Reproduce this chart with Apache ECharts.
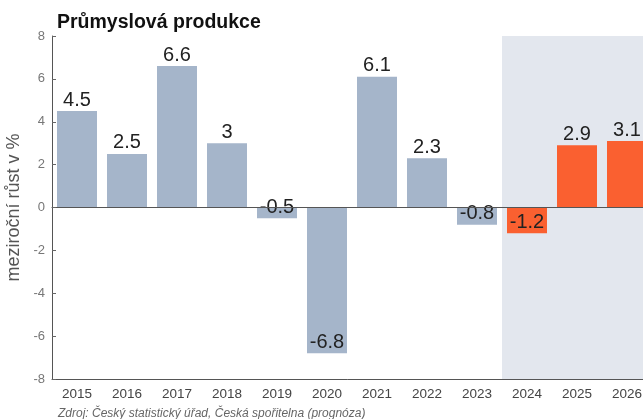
<!DOCTYPE html>
<html><head><meta charset="utf-8">
<script src="https://cdn.jsdelivr.net/npm/echarts@6/dist/echarts.min.js"></script>
<style>html,body{margin:0;padding:0;background:#fff}#c{width:643px;height:419px}</style>
</head><body><div id="c"></div>
<script>
var years = ['2015','2016','2017','2018','2019','2020','2021','2022','2023','2024','2025','2026'];
var growth = [4.5, 2.5, 6.6, 3, -0.5, -6.8, 6.1, 2.3, -0.8, -1.2, 2.9, 3.1];
var forecastYears = ['2024','2025','2026'];
var yTicks = {min: -8, max: 8, interval: 2};
var titleText = 'Průmyslová produkce';
var sourceText = 'Zdroj: Český statistický úřad, Česká spořitelna (prognóza)';
var yName = 'meziroční růst v %';

var histColor = '#a5b5ca', fcColor = '#fa6030', shadeColor = '#e3e7ee';
function isFc(y){ return forecastYears.indexOf(y) >= 0; }
var data = growth.map(function(v, i){
  return {
    value: v,
    itemStyle: {color: isFc(years[i]) ? fcColor : histColor},
    label: v < 0 ? {position: 'insideBottom', distance: 1} : {position: 'top', distance: 1}
  };
});
// background band for forecast years, spanning the full y range
var shadeTop = years.map(function(y){ return isFc(y) ? yTicks.max : null; });
var shadeBottom = years.map(function(y){ return isFc(y) ? yTicks.min : null; });

var chart = echarts.init(document.getElementById('c'));
chart.setOption({
  animation: false,
  title: [
    {text: titleText, left: 52, top: 8, textStyle: {fontFamily: 'Liberation Sans', fontSize: 19.5, fontWeight: 'bold', color: '#111'}},
    {text: sourceText, left: 53, top: 403, textStyle: {fontFamily: 'Liberation Sans', fontSize: 12, fontStyle: 'italic', fontWeight: 'normal', color: '#666'}}
  ],
  grid: {left: 52, right: -9, top: 36, bottom: 40, containLabel: false, outerBoundsMode: 'none'},
  xAxis: [
    {type: 'category', data: years, position: 'bottom',
     axisLine: {onZero: false, lineStyle: {color: '#555'}},
     axisTick: {inside: true, alignWithLabel: true, length: 5, lineStyle: {color: '#666'}},
     axisLabel: {fontFamily: 'Liberation Sans', fontSize: 13.5, color: '#444', margin: 8}, z: 10},
    {type: 'category', data: years, position: 'top',
     axisLine: {lineStyle: {color: '#555'}},
     axisTick: {inside: true, alignWithLabel: true, length: 5, lineStyle: {color: '#666'}},
     axisLabel: {show: false}, z: 10},
    {type: 'category', data: years, show: false}
  ],
  yAxis: {type: 'value', min: yTicks.min, max: yTicks.max, interval: yTicks.interval,
    name: yName, nameLocation: 'middle', nameGap: 26,
    nameTextStyle: {fontFamily: 'Liberation Sans', fontSize: 18, color: '#555'},
    axisLine: {show: true, lineStyle: {color: '#555'}},
    axisTick: {show: true, inside: true, length: 4, lineStyle: {color: '#666'}},
    splitLine: {show: false},
    axisLabel: {fontFamily: 'Liberation Sans', fontSize: 13, color: '#777', margin: 7}, z: 10},
  series: [
    {type: 'bar', xAxisIndex: 2, data: shadeTop, stack: 'shade', barWidth: '100%', silent: true, z: 1,
     itemStyle: {color: shadeColor}},
    {type: 'bar', xAxisIndex: 2, data: shadeBottom, stack: 'shade', barWidth: '100%', silent: true, z: 1,
     itemStyle: {color: shadeColor}},
    {type: 'bar', xAxisIndex: 0, data: data, barWidth: '80%', z: 3,
     label: {show: true, fontFamily: 'Liberation Sans', fontSize: 20, color: '#222'},
     markLine: {silent: true, symbol: 'none', label: {show: false},
       lineStyle: {color: '#666', width: 1, type: 'solid'}, data: [{yAxis: 0}]}}
  ]
});
</script></body></html>
